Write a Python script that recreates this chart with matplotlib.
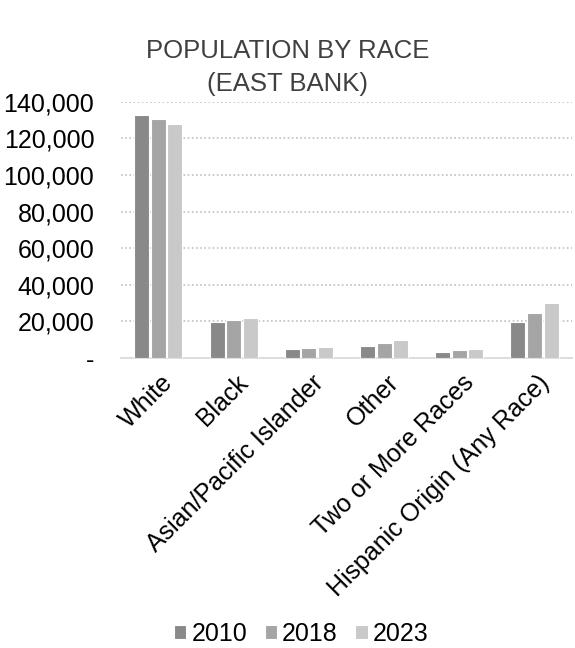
import matplotlib.pyplot as plt
import numpy as np
from matplotlib.ticker import FuncFormatter

plt.rcParams['font.family'] = ['Liberation Sans', 'DejaVu Sans']

categories = ["White", "Black", "Asian/Pacific Islander", "Other",
              "Two or More Races", "Hispanic Origin (Any Race)"]
years = ["2010", "2018", "2023"]
pop_2010 = [132900, 19800, 5100, 6500, 3100, 19500]
pop_2018 = [130400, 20900, 5600, 8000, 4200, 24700]
pop_2023 = [127800, 21600, 6200, 9800, 4900, 29800]
colors = ["#898989", "#a5a5a5", "#c9c9c9"]

fig = plt.figure(figsize=(5.75, 6.48), dpi=100)
ax = fig.add_axes([0.21, 0.4475, 0.785, 0.3955])

x = np.arange(len(categories))
w = 0.2
for i, (vals, yr) in enumerate(zip([pop_2010, pop_2018, pop_2023], years)):
    ax.bar(x + (i - 1) * 0.22, vals, width=w, color=colors[i],
           edgecolor="white", linewidth=0.8, label=yr, zorder=3)

ax.set_ylim(0, 140000)
ax.set_xlim(-0.5, len(categories) - 0.5)
ax.set_yticks(range(0, 140001, 20000))
ax.yaxis.set_major_formatter(FuncFormatter(lambda v, p: "-" if v == 0 else f"{int(v):,}"))
ax.grid(axis="y", linestyle=(0, (1, 1.5)), color="#c0c0c0", linewidth=1.2, zorder=0)
for s in ["top", "right", "left"]:
    ax.spines[s].set_visible(False)
ax.spines["bottom"].set_color("#d9d9d9")
ax.spines["bottom"].set_linewidth(1.2)
ax.tick_params(axis="both", length=0, labelsize=18, colors="#000000")
ax.tick_params(axis="y", pad=19)
ax.tick_params(axis="x", pad=9)
ax.set_xticks(x + 0.03)
ax.set_xticklabels(categories, rotation=45, ha="right", rotation_mode="anchor")

fig.text(0.5, 0.896, "POPULATION BY RACE\n(EAST BANK)", ha="center", va="center",
         fontsize=18.5, color="#404040", linespacing=1.45)

fig.legend(loc="center", bbox_to_anchor=(0.524, 0.022), ncol=3, frameon=False,
           fontsize=18, handlelength=0.5, handleheight=0.5, handletextpad=0.2,
           columnspacing=0.7)

fig.savefig("out.png", dpi=100)
